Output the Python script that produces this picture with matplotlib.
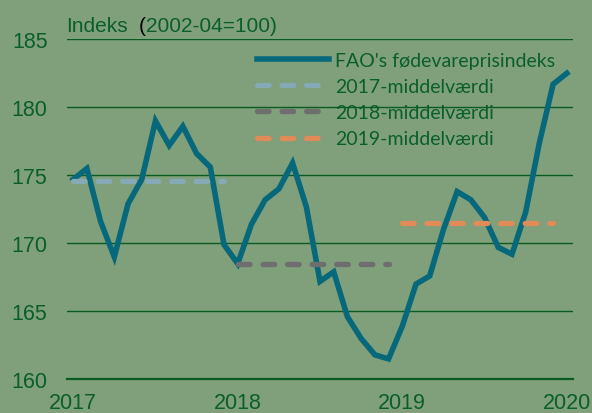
import matplotlib
matplotlib.use("Agg")
import matplotlib.pyplot as plt

# ---- data ----
year_labels = ["2017", "2018", "2019", "2020"]
fao_index = [174.7, 175.5, 171.6, 169.0, 172.9, 174.7, 179.0, 177.2, 178.6, 176.6, 175.6, 169.9,
             168.5, 171.4, 173.2, 174.0, 175.9, 172.7, 167.2, 167.9, 164.6, 163.0, 161.8, 161.5,
             163.9, 167.0, 167.6, 171.0, 173.8, 173.2, 171.9, 169.7, 169.2, 172.3, 177.4, 181.7,
             182.5]
mean_labels = ["2017-middelværdi", "2018-middelværdi", "2019-middelværdi"]
mean_values = [174.6, 168.5, 171.5]
series_label = "FAO's fødevareprisindeks"
title_main = "Indeks"
title_gap = "  "
title_paren = "("
title_rest = "2002-04=100)"

# ---- style ----
BG = "#7FA07A"
TEAL = "#06687A"
GRID = "#0A5A22"
TXT = "#0B5E2C"
MEAN_COLORS = ["#86AAB5", "#6E6E6E", "#E08B58"]

W, H = 592, 414
fig = plt.figure(figsize=(W / 100, H / 100), dpi=100, facecolor=BG)
ax = fig.add_axes([67 / W, 1 - 380.3 / H, (573 - 67) / W, (380.3 - 40.3) / H])
ax.set_facecolor(BG)

x = list(range(len(fao_index)))
ax.plot(x, fao_index, color=TEAL, lw=4.0, solid_joinstyle="miter", zorder=2,
        label=series_label)

for k, (lab, m, c) in enumerate(zip(mean_labels, mean_values, MEAN_COLORS)):
    xs = [12 * k, 12 * k + 11]
    ax.plot(xs, [m, m], color=c, lw=3.8, linestyle=(0, (2.2, 2.45)),
            dash_capstyle="round", zorder=3, label=lab)

ax.set_xlim(-0.45, 36.45)
ax.set_ylim(160, 185)
ax.set_yticks([160, 165, 170, 175, 180, 185])
ax.set_xticks([0, 12, 24, 36])
ax.set_xticklabels(year_labels)

ax.set_axisbelow(True)
ax.grid(axis="y", color=GRID, lw=1.0)
ax.grid(axis="x", visible=False)
for s in ["top", "right", "left"]:
    ax.spines[s].set_visible(False)
ax.spines["bottom"].set_color(GRID)
ax.spines["bottom"].set_linewidth(1.6)

ax.tick_params(axis="both", length=0, colors=TXT, labelsize=15.5,
               labelfontfamily="Liberation Sans")
ax.tick_params(axis="y", pad=14)
ax.tick_params(axis="x", pad=9)

# title in three pieces, placed where they sit in the full string
ty = 1 - 32 / H
tx = 65.8 / W
tkw = dict(fontsize=15, family="Liberation Sans", va="baseline")
renderer = fig.canvas.get_renderer()


def right_edge(s):
    p = fig.text(tx, ty, s, ha="left", **tkw)
    r = p.get_window_extent(renderer).x1
    p.remove()
    return r


paren_right = right_edge(title_main + title_gap + title_paren)
full_right = right_edge(title_main + title_gap + title_paren + title_rest)
fig.text(tx, ty, title_main, color=TXT, ha="left", **tkw)
fig.text(paren_right / W, ty, title_paren, color="black", ha="right", **tkw)
fig.text(full_right / W, ty, title_rest, color=TXT, ha="right", **tkw)

leg = ax.legend(loc="upper left", bbox_to_anchor=(257 / W, 1 - 53 / H),
                bbox_transform=fig.transFigure, frameon=False,
                prop={"family": "Lato", "size": 14},
                handlelength=3.7, handletextpad=0.32, labelspacing=0.47,
                borderpad=0, borderaxespad=0)
for t in leg.get_texts():
    t.set_color(TXT)
leg.set_zorder(0.4)

fig.savefig("out.png", dpi=100, facecolor=BG)
